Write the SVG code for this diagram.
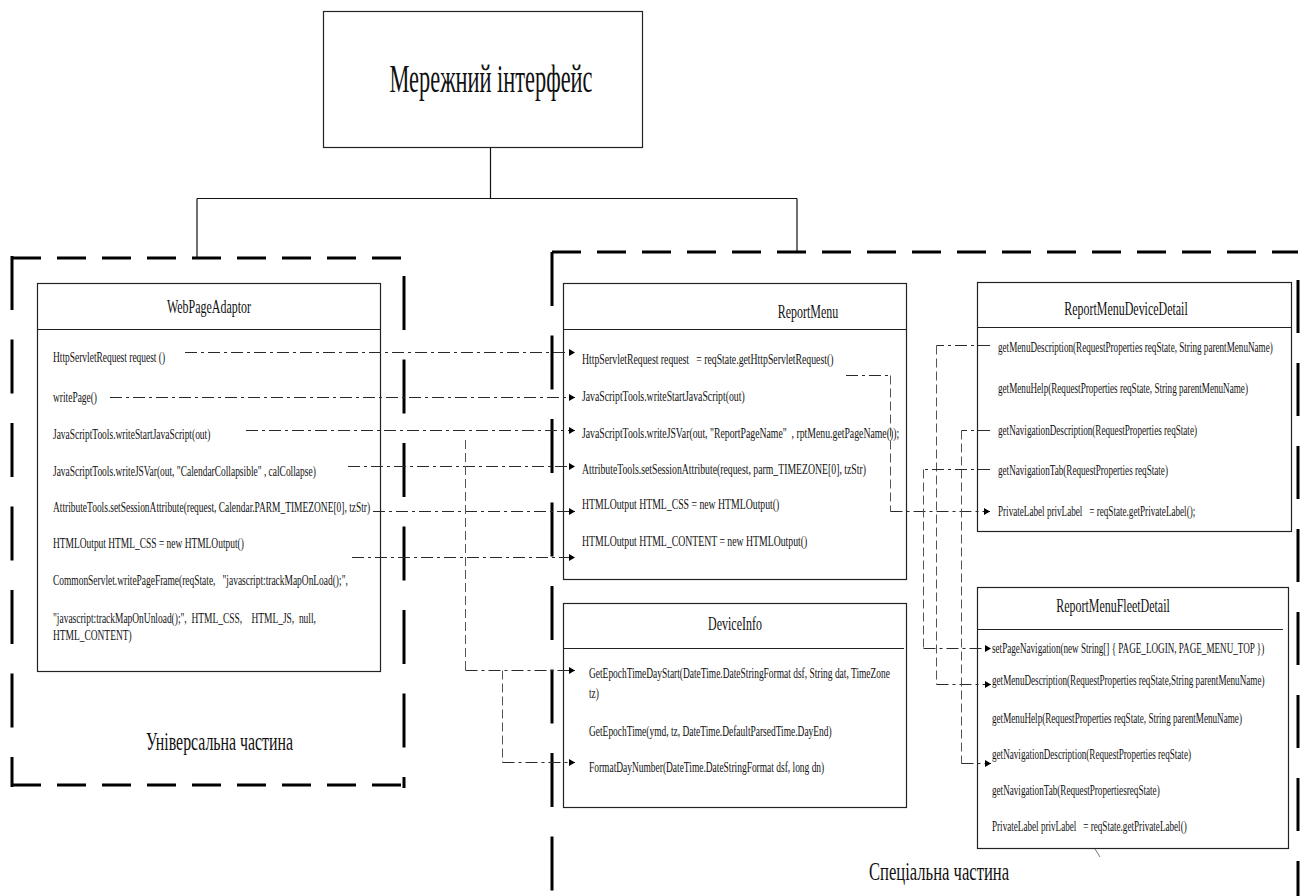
<svg xmlns="http://www.w3.org/2000/svg" width="1307" height="896" viewBox="0 0 1307 896">
  <style>
    .box { fill: #fff; stroke: #222; stroke-width: 1.2; }
    .sep { stroke: #222; stroke-width: 1.2; }
    .tree { stroke: #111; stroke-width: 1.2; fill: none; }
    .zoneH { stroke: #000; stroke-width: 3; fill: none; stroke-dasharray: 29 16; }
    .zoneV { stroke: #000; stroke-width: 3; fill: none; stroke-dasharray: 54 29.5; }
    .t { font-family: "Liberation Serif", "Times New Roman", serif; font-size: 15px; fill: #111; white-space: pre; }
    .s { font-size: 14.5px; }
    .m { font-size: 15.5px; }
    .h { font-family: "Liberation Serif", "Times New Roman", serif; font-size: 19px; fill: #111; text-anchor: middle; }
    .big { font-family: "Liberation Serif", "Times New Roman", serif; fill: #111; }
    .conn { fill: none; stroke: #2a2a2a; stroke-width: 1.2; stroke-dasharray: 12 4 3 4; }
    .link { fill: none; stroke: #555; stroke-width: 1; stroke-dasharray: 9 4; }
  </style>
  <defs>
    <marker id="arr" viewBox="0 0 10 10" refX="10" refY="5" markerWidth="6" markerHeight="7" markerUnits="userSpaceOnUse" orient="auto" preserveAspectRatio="none">
      <path d="M0,0 L10,5 L0,10 z" fill="#000"/>
    </marker>
  </defs>

  <!-- hierarchy lines under the root block -->
  <g id="tree">
    <path class="tree" d="M490.5,147 V198.5 M197,198.5 H797 M197,198.5 V258 M797,198.5 V252"/>
  </g>

  <!-- root block -->
  <g id="node-network-interface">
    <rect class="box" x="323.5" y="11.5" width="319" height="136"/>
    <text class="big" x="491" y="92" font-size="41" text-anchor="middle" textLength="203" lengthAdjust="spacingAndGlyphs">Мережний інтерфейс</text>
  </g>

  <!-- universal part zone -->
  <g id="zone-universal">
    <path class="zoneH" d="M12,258 H401 M12,785 H401"/>
    <path class="zoneV" d="M12,256 V787 M404,276 V788"/>
    <text class="big" x="146" y="750" font-size="26" textLength="147" lengthAdjust="spacingAndGlyphs">Універсальна частина</text>
  </g>

  <!-- special part zone -->
  <g id="zone-special">
    <path class="zoneH" d="M552,252 H1298"/>
    <path class="zoneV" d="M552,252 V896"/>
    <path class="zoneV" style="stroke-dasharray:53 30" d="M1298,280 V896"/>
    <text class="big" x="869" y="880" font-size="26" textLength="140" lengthAdjust="spacingAndGlyphs">Спеціальна частина</text>
  </g>

  <!-- WebPageAdaptor -->
  <g id="node-webpageadaptor">
    <rect class="box" x="37.5" y="283.5" width="343" height="388"/>
    <line class="sep" x1="37.5" y1="329.5" x2="380.5" y2="329.5"/>
    <text class="h" transform="translate(209 313) scale(.63 1)">WebPageAdaptor</text>
    <text class="t" transform="translate(53 362) scale(.63 1)">HttpServletRequest request ()</text>
    <text class="t" transform="translate(53 402) scale(.63 1)">writePage()</text>
    <text class="t" transform="translate(53 439) scale(.63 1)">JavaScriptTools.writeStartJavaScript(out)</text>
    <text class="t" transform="translate(53 476) scale(.63 1)">JavaScriptTools.writeJSVar(out, "CalendarCollapsible" , calCollapse)</text>
    <text class="t" transform="translate(53 512) scale(.63 1)">AttributeTools.setSessionAttribute(request, Calendar.PARM_TIMEZONE[0], tzStr)</text>
    <text class="t" transform="translate(53 548) scale(.63 1)">HTMLOutput HTML_CSS = new HTMLOutput()</text>
    <text class="t" transform="translate(53 585) scale(.63 1)">CommonServlet.writePageFrame(reqState,   "javascript:trackMapOnLoad();",</text>
    <text class="t" transform="translate(53 623) scale(.63 1)">"javascript:trackMapOnUnload();",  HTML_CSS,    HTML_JS,  null,</text>
    <text class="t" transform="translate(53 640) scale(.63 1)">HTML_CONTENT)</text>
  </g>

  <!-- ReportMenu -->
  <g id="node-reportmenu">
    <rect class="box" x="563.5" y="283.5" width="343" height="296"/>
    <line class="sep" x1="563.5" y1="329.5" x2="906.5" y2="329.5"/>
    <text class="h" transform="translate(808 318) scale(.63 1)">ReportMenu</text>
    <text class="t m" transform="translate(582 364) scale(.63 1)">HttpServletRequest request   = reqState.getHttpServletRequest()</text>
    <text class="t m" transform="translate(582 401) scale(.63 1)">JavaScriptTools.writeStartJavaScript(out)</text>
    <text class="t m" transform="translate(582 438) scale(.63 1)">JavaScriptTools.writeJSVar(out, "ReportPageName"  , rptMenu.getPageName());</text>
    <text class="t m" transform="translate(582 474) scale(.63 1)">AttributeTools.setSessionAttribute(request, parm_TIMEZONE[0], tzStr)</text>
    <text class="t m" transform="translate(582 509) scale(.63 1)">HTMLOutput HTML_CSS = new HTMLOutput()</text>
    <text class="t m" transform="translate(582 546) scale(.63 1)">HTMLOutput HTML_CONTENT = new HTMLOutput()</text>
  </g>

  <!-- DeviceInfo -->
  <g id="node-deviceinfo">
    <rect class="box" x="563.5" y="603.5" width="343" height="204"/>
    <line class="sep" x1="563.5" y1="648.5" x2="904" y2="648.5"/>
    <text class="h" transform="translate(735 630) scale(.63 1)">DeviceInfo</text>
    <text class="t" transform="translate(589 678) scale(.63 1)">GetEpochTimeDayStart(DateTime.DateStringFormat dsf, String dat, TimeZone</text>
    <text class="t" transform="translate(589 698) scale(.63 1)">tz)</text>
    <text class="t" transform="translate(589 736) scale(.63 1)">GetEpochTime(ymd, tz, DateTime.DefaultParsedTime.DayEnd)</text>
    <text class="t" transform="translate(589 772) scale(.63 1)">FormatDayNumber(DateTime.DateStringFormat dsf, long dn)</text>
  </g>

  <!-- ReportMenuDeviceDetail -->
  <g id="node-reportmenudevicedetail">
    <rect class="box" x="977.5" y="282.5" width="314" height="249"/>
    <line class="sep" x1="977.5" y1="327.5" x2="1291.5" y2="327.5"/>
    <text class="h" transform="translate(1126 315) scale(.63 1)">ReportMenuDeviceDetail</text>
    <text class="t s" transform="translate(998 352) scale(.63 1)">getMenuDescription(RequestProperties reqState, String parentMenuName)</text>
    <text class="t s" transform="translate(998 393) scale(.63 1)">getMenuHelp(RequestProperties reqState, String parentMenuName)</text>
    <text class="t s" transform="translate(998 435) scale(.63 1)">getNavigationDescription(RequestProperties reqState)</text>
    <text class="t s" transform="translate(998 475) scale(.63 1)">getNavigationTab(RequestProperties reqState)</text>
    <text class="t s" transform="translate(998 516) scale(.63 1)">PrivateLabel privLabel   = reqState.getPrivateLabel();</text>
  </g>

  <!-- ReportMenuFleetDetail -->
  <g id="node-reportmenufleetdetail">
    <rect class="box" x="977.5" y="587.5" width="311" height="261"/>
    <line class="sep" x1="977.5" y1="629.5" x2="1283" y2="629.5"/>
    <text class="h" transform="translate(1113 612) scale(.63 1)">ReportMenuFleetDetail</text>
    <text class="t s" transform="translate(992 653) scale(.63 1)">setPageNavigation(new String[] { PAGE_LOGIN, PAGE_MENU_TOP })</text>
    <text class="t s" transform="translate(992 685) scale(.63 1)">getMenuDescription(RequestProperties reqState,String parentMenuName)</text>
    <text class="t s" transform="translate(992 723) scale(.63 1)">getMenuHelp(RequestProperties reqState, String parentMenuName)</text>
    <text class="t s" transform="translate(992 759) scale(.63 1)">getNavigationDescription(RequestProperties reqState)</text>
    <text class="t s" transform="translate(992 795) scale(.63 1)">getNavigationTab(RequestPropertiesreqState)</text>
    <text class="t s" transform="translate(992 831) scale(.63 1)">PrivateLabel privLabel   = reqState.getPrivateLabel()</text>
    <line x1="1095" y1="849" x2="1100" y2="857" stroke="#555" stroke-width="0.8"/>
  </g>

  <!-- call links -->
  <g id="connectors">
    <path class="conn" marker-end="url(#arr)" d="M185,352.5 H575"/>
    <path class="conn" marker-end="url(#arr)" d="M110,397.5 H575"/>
    <path class="conn" marker-end="url(#arr)" d="M246,430.5 H575"/>
    <path class="conn" marker-end="url(#arr)" d="M348,466.5 H575"/>
    <path class="conn" marker-end="url(#arr)" d="M373,511.5 H575"/>
    <path class="conn" marker-end="url(#arr)" d="M352,557.5 H575"/>
    <path class="link" d="M465.5,440 V670.5"/>
    <path class="conn" marker-end="url(#arr)" d="M465.5,670.5 H575"/>
    <path class="link" d="M502.5,670.5 V762.5"/>
    <path class="conn" marker-end="url(#arr)" d="M502.5,762.5 H575"/>
    <path class="conn" d="M846,375.5 H890.5"/>
    <path class="link" d="M890.5,375.5 V511.5"/>
    <path class="conn" marker-end="url(#arr)" d="M890.5,511.5 H990"/>
    <path class="conn" d="M990,345.5 H936.5"/>
    <path class="link" d="M936.5,345.5 V684.5"/>
    <path class="conn" marker-end="url(#arr)" d="M936.5,684.5 H991"/>
    <path class="conn" d="M990,430.5 H961.5"/>
    <path class="link" d="M961.5,430.5 V763.5"/>
    <path class="conn" marker-end="url(#arr)" d="M961.5,763.5 H991"/>
    <path class="conn" d="M990,469.5 H923.5"/>
    <path class="link" d="M923.5,469.5 V648.5"/>
    <path class="conn" marker-end="url(#arr)" d="M923.5,648.5 H991"/>
  </g>
</svg>
